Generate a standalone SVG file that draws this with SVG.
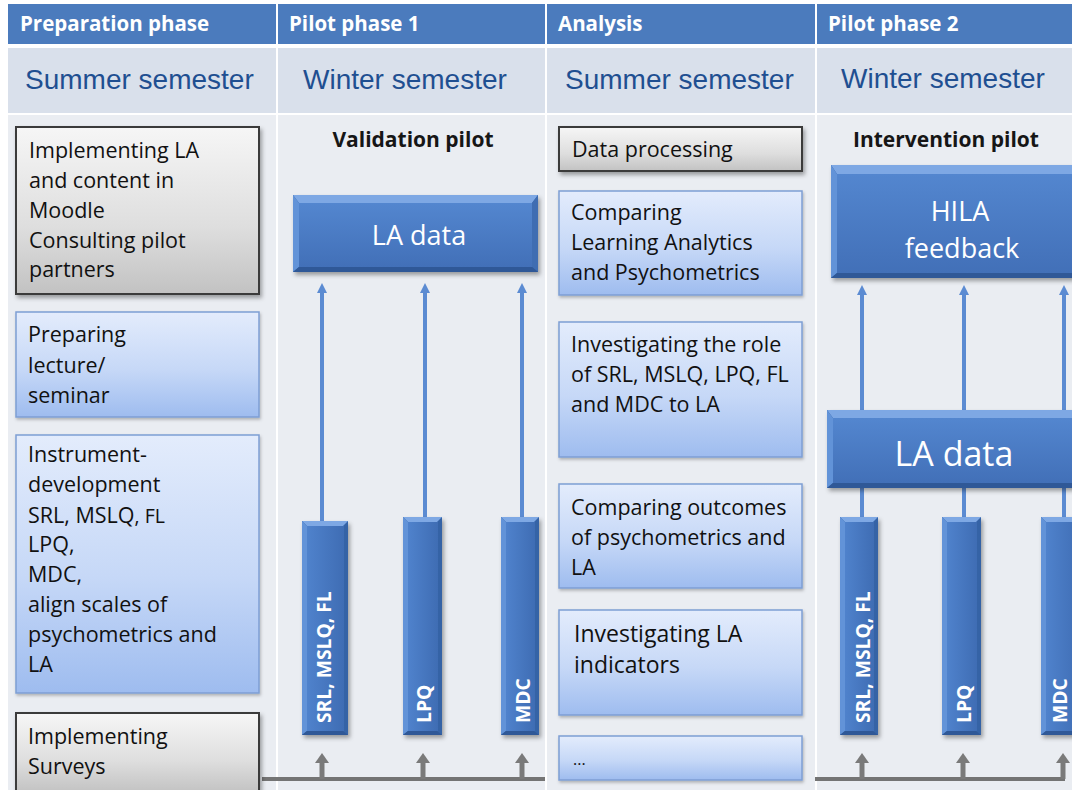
<svg xmlns="http://www.w3.org/2000/svg" width="1072" height="790" viewBox="0 0 1072 790">
  <defs>
    <linearGradient id="blueBox" x1="0" y1="0" x2="0" y2="1">
      <stop offset="0" stop-color="#e3ecfc"/>
      <stop offset="0.55" stop-color="#c6d8f7"/>
      <stop offset="1" stop-color="#9ebcef"/>
    </linearGradient>
    <linearGradient id="grayBox" x1="0" y1="0" x2="0" y2="1">
      <stop offset="0" stop-color="#f6f6f6"/>
      <stop offset="0.6" stop-color="#dedede"/>
      <stop offset="1" stop-color="#c2c2c2"/>
    </linearGradient>
    <linearGradient id="faceV" x1="0" y1="0" x2="0" y2="1">
      <stop offset="0" stop-color="#5386cf"/>
      <stop offset="1" stop-color="#4270b8"/>
    </linearGradient>
    <linearGradient id="faceH" x1="0" y1="0" x2="1" y2="0">
      <stop offset="0" stop-color="#4f82cc"/>
      <stop offset="1" stop-color="#3f6db4"/>
    </linearGradient>
    <filter id="shadow" x="-10%" y="-10%" width="130%" height="130%">
      <feDropShadow dx="2" dy="3" stdDeviation="2" flood-color="#000" flood-opacity="0.35"/>
    </filter>
    <filter id="softShadow" x="-10%" y="-10%" width="130%" height="130%">
      <feDropShadow dx="1" dy="2" stdDeviation="1.5" flood-color="#000" flood-opacity="0.25"/>
    </filter>
    <marker id="blueHead" viewBox="0 0 10 10" refX="2" refY="5" markerWidth="10" markerHeight="10" markerUnits="userSpaceOnUse" orient="auto">
      <path d="M0,0 L10,5 L0,10 z" fill="#5b8bd2"/>
    </marker>
    <marker id="grayHead" viewBox="0 0 10 14" refX="2" refY="7" markerWidth="10" markerHeight="14" markerUnits="userSpaceOnUse" orient="auto">
      <path d="M0,0 L10,7 L0,14 z" fill="#7a7a7a"/>
    </marker>
  </defs>
  <style>
    .hdr { font-family: "Open Sans", "Liberation Sans", sans-serif; font-weight: bold; font-size: 20.5px; fill: #ffffff; }
    .sem { font-family: "Liberation Sans", Arial, sans-serif; font-size: 28px; fill: #1f4f91; }
    .txt { font-family: "Open Sans", "Liberation Sans", sans-serif; font-size: 21.5px; fill: #111111; }
    .ttl { font-family: "Open Sans", "Liberation Sans", sans-serif; font-weight: bold; font-size: 21px; fill: #161616; }
    .big { font-family: "Open Sans", "Liberation Sans", sans-serif; font-size: 27px; fill: #ffffff; }
    .bar { font-family: "Open Sans", "Liberation Sans", sans-serif; font-weight: bold; font-size: 19.3px; fill: #ffffff; }
    .blue { fill: url(#blueBox); stroke: #7e9ed4; stroke-width: 1.5; filter: url(#softShadow); }
    .gray { fill: url(#grayBox); stroke: #3a3a3a; stroke-width: 2; filter: url(#shadow); }
    .base { fill: #3563a6; filter: url(#shadow); }
    .bt { fill: #7ea8e4; }
    .bl { fill: #6293d8; }
    .br { fill: #3f6db2; }
    .bb { fill: #2f5897; }
    .fv { fill: url(#faceV); }
    .fh { fill: url(#faceH); }
    .arrow { stroke: #5b8bd2; stroke-width: 4; fill: none; }
    .feed { stroke: #7a7a7a; stroke-width: 5; fill: none; }
    .rail { stroke: #747474; stroke-width: 4; fill: none; }
  </style>

  <!-- table background -->
  <g id="table">
    <rect x="0" y="0" width="1072" height="790" fill="#ffffff"/>
    <rect x="8" y="4" width="1064" height="40" fill="#4b7bbd"/>
    <rect x="8" y="48" width="1064" height="65" fill="#d9e0eb"/>
    <rect x="8" y="115" width="1064" height="675" fill="#eaedf2"/>
    <rect x="276" y="4" width="2" height="786" fill="#ffffff"/>
    <rect x="545" y="4" width="2" height="786" fill="#ffffff"/>
    <rect x="815" y="4" width="2" height="786" fill="#ffffff"/>
    <text class="hdr" x="20" y="31">Preparation phase</text>
    <text class="hdr" x="289" y="31">Pilot phase 1</text>
    <text class="hdr" x="558" y="31">Analysis</text>
    <text class="hdr" x="828" y="31">Pilot phase 2</text>
    <text class="sem" x="25" y="89">Summer semester</text>
    <text class="sem" x="303" y="89">Winter semester</text>
    <text class="sem" x="565" y="89">Summer semester</text>
    <text class="sem" x="841" y="88">Winter semester</text>
    <text class="ttl" x="413" y="147" text-anchor="middle">Validation pilot</text>
    <text class="ttl" x="946" y="147" text-anchor="middle">Intervention pilot</text>
  </g>

  <!-- connectors -->
  <g id="connectors">
    <!-- survey feeds into the bars -->
    <line class="rail" x1="262" y1="779" x2="545" y2="779"/>
    <line class="rail" x1="815" y1="779" x2="1065" y2="779"/>
    <line class="feed" x1="322" y1="779" x2="322" y2="761" marker-end="url(#grayHead)"/>
    <line class="feed" x1="423" y1="779" x2="423" y2="761" marker-end="url(#grayHead)"/>
    <line class="feed" x1="522" y1="779" x2="522" y2="761" marker-end="url(#grayHead)"/>
    <line class="feed" x1="862" y1="779" x2="862" y2="761" marker-end="url(#grayHead)"/>
    <line class="feed" x1="963" y1="779" x2="963" y2="761" marker-end="url(#grayHead)"/>
    <line class="feed" x1="1063" y1="779" x2="1063" y2="761" marker-end="url(#grayHead)"/>
    <!-- validation pilot: instruments to LA data -->
    <line class="arrow" x1="322" y1="528" x2="322" y2="291" marker-end="url(#blueHead)"/>
    <line class="arrow" x1="425" y1="524" x2="425" y2="291" marker-end="url(#blueHead)"/>
    <line class="arrow" x1="522" y1="524" x2="522" y2="291" marker-end="url(#blueHead)"/>
    <!-- intervention pilot: instruments to LA data, LA data to feedback -->
    <line class="arrow" x1="862" y1="524" x2="862" y2="486"/>
    <line class="arrow" x1="964" y1="524" x2="964" y2="486"/>
    <line class="arrow" x1="1064" y1="524" x2="1064" y2="486"/>
    <line class="arrow" x1="862" y1="412" x2="862" y2="293" marker-end="url(#blueHead)"/>
    <line class="arrow" x1="964" y1="412" x2="964" y2="293" marker-end="url(#blueHead)"/>
    <line class="arrow" x1="1064" y1="412" x2="1064" y2="293" marker-end="url(#blueHead)"/>
  </g>

  <!-- preparation phase -->
  <g id="prep-implement-la">
    <rect class="gray" x="16" y="127" width="243" height="167"/>
    <text class="txt" x="29" y="158">Implementing LA<tspan x="29" dy="30">and content in</tspan><tspan x="29" dy="30">Moodle</tspan><tspan x="29" dy="30">Consulting pilot</tspan><tspan x="29" dy="29">partners</tspan></text>
  </g>
  <g id="prep-lecture">
    <rect class="blue" x="16" y="312" width="243" height="105"/>
    <text class="txt" x="28" y="342">Preparing<tspan x="28" dy="31">lecture/</tspan><tspan x="28" dy="30">seminar</tspan></text>
  </g>
  <g id="prep-instruments">
    <rect class="blue" x="16" y="435" width="243" height="258"/>
    <text class="txt" x="28" y="462">Instrument-<tspan x="28" dy="30">development</tspan><tspan x="28" dy="31">SRL, MSLQ<tspan style="font-size:19.5px">, FL</tspan></tspan><tspan x="28" dy="29">LPQ,</tspan><tspan x="28" dy="30">MDC,</tspan><tspan x="28" dy="30">align scales of</tspan><tspan x="28" dy="30">psychometrics and</tspan><tspan x="28" dy="30">LA</tspan></text>
  </g>
  <g id="prep-surveys">
    <rect class="gray" x="16" y="713" width="243" height="80"/>
    <text class="txt" x="28" y="744">Implementing<tspan x="28" dy="30">Surveys</tspan></text>
  </g>

  <!-- pilot phase 1 -->
  <g id="p1-la-data">
    <rect class="base" x="293" y="195" width="245" height="77"/>
    <polygon class="bt" points="293,195 538,195 532,203 299,203"/>
    <polygon class="bl" points="293,195 299,203 299,267 293,272"/>
    <polygon class="br" points="538,195 532,203 532,267 538,272"/>
    <polygon class="bb" points="293,272 538,272 532,267 299,267"/>
    <rect class="fv" x="299" y="203" width="233" height="64"/>
    <text class="big" x="419" y="245" text-anchor="middle">LA data</text>
  </g>
  <g id="p1-srl">
    <rect class="base" x="302" y="521" width="46" height="214"/>
    <polygon class="bt" points="302,521 348,521 343,526 307,526"/>
    <polygon class="bl" points="302,521 307,526 307,731 302,735"/>
    <polygon class="bb" points="302,735 348,735 343,731 307,731"/>
    <rect class="fh" x="307" y="526" width="37" height="205"/>
    <text class="bar" transform="translate(331,723) rotate(-90)">SRL, MSLQ, FL</text>
  </g>
  <g id="p1-lpq">
    <rect class="base" x="403" y="517" width="39" height="218"/>
    <polygon class="bt" points="403,517 442,517 437,522 408,522"/>
    <polygon class="bl" points="403,517 408,522 408,731 403,735"/>
    <polygon class="bb" points="403,735 442,735 437,731 408,731"/>
    <rect class="fh" x="408" y="522" width="30" height="209"/>
    <text class="bar" transform="translate(431,723) rotate(-90)">LPQ</text>
  </g>
  <g id="p1-mdc">
    <rect class="base" x="501" y="517" width="38" height="218"/>
    <polygon class="bt" points="501,517 539,517 534,522 506,522"/>
    <polygon class="bl" points="501,517 506,522 506,731 501,735"/>
    <polygon class="bb" points="501,735 539,735 534,731 506,731"/>
    <rect class="fh" x="506" y="522" width="29" height="209"/>
    <text class="bar" transform="translate(530,723) rotate(-90)">MDC</text>
  </g>

  <!-- analysis -->
  <g id="an-processing">
    <rect class="gray" x="559" y="127" width="243" height="44"/>
    <text class="txt" x="572" y="157">Data processing</text>
  </g>
  <g id="an-compare">
    <rect class="blue" x="559" y="191" width="243" height="104"/>
    <text class="txt" x="571" y="220">Comparing<tspan x="571" dy="30">Learning Analytics</tspan><tspan x="571" dy="30">and Psychometrics</tspan></text>
  </g>
  <g id="an-role">
    <rect class="blue" x="559" y="322" width="243" height="135"/>
    <text class="txt" x="571" y="352">Investigating the role<tspan x="571" dy="30">of SRL, MSLQ, LPQ, FL</tspan><tspan x="571" dy="30">and MDC to LA</tspan></text>
  </g>
  <g id="an-outcomes">
    <rect class="blue" x="559" y="484" width="243" height="104"/>
    <text class="txt" x="571" y="515">Comparing outcomes<tspan x="571" dy="30">of psychometrics and</tspan><tspan x="571" dy="30">LA</tspan></text>
  </g>
  <g id="an-indicators">
    <rect class="blue" x="559" y="610" width="243" height="105"/>
    <text class="txt" x="574" y="642" style="font-size:23px">Investigating LA<tspan x="574" dy="31">indicators</tspan></text>
  </g>
  <g id="an-more">
    <rect class="blue" x="559" y="736" width="243" height="44"/>
    <text class="txt" x="573" y="765" style="font-size:16px">...</text>
  </g>

  <!-- pilot phase 2 -->
  <g id="p2-feedback">
    <rect class="base" x="831" y="165" width="256" height="113"/>
    <polygon class="bt" points="831,165 1087,165 1081,174 837,174"/>
    <polygon class="bl" points="831,165 837,174 837,273 831,278"/>
    <polygon class="bb" points="831,278 1087,278 1081,273 837,273"/>
    <rect class="fv" x="837" y="174" width="244" height="99"/>
    <text class="big" x="960" y="221" text-anchor="middle">HILA<tspan x="962" dy="37">feedback</tspan></text>
  </g>
  <g id="p2-la-data">
    <rect class="base" x="827" y="410" width="260" height="78"/>
    <polygon class="bt" points="827,410 1087,410 1081,418 833,418"/>
    <polygon class="bl" points="827,410 833,418 833,483 827,488"/>
    <polygon class="bb" points="827,488 1087,488 1081,483 833,483"/>
    <rect class="fv" x="833" y="418" width="248" height="65"/>
    <text class="big" x="954" y="466" text-anchor="middle" style="font-size:34px">LA data</text>
  </g>
  <g id="p2-srl">
    <rect class="base" x="840" y="517" width="38" height="218"/>
    <polygon class="bt" points="840,517 878,517 873,522 845,522"/>
    <polygon class="bl" points="840,517 845,522 845,731 840,735"/>
    <polygon class="bb" points="840,735 878,735 873,731 845,731"/>
    <rect class="fh" x="845" y="522" width="29" height="209"/>
    <text class="bar" transform="translate(870,723) rotate(-90)">SRL, MSLQ, FL</text>
  </g>
  <g id="p2-lpq">
    <rect class="base" x="942" y="517" width="39" height="218"/>
    <polygon class="bt" points="942,517 981,517 976,522 947,522"/>
    <polygon class="bl" points="942,517 947,522 947,731 942,735"/>
    <polygon class="bb" points="942,735 981,735 976,731 947,731"/>
    <rect class="fh" x="947" y="522" width="30" height="209"/>
    <text class="bar" transform="translate(971,723) rotate(-90)">LPQ</text>
  </g>
  <g id="p2-mdc">
    <rect class="base" x="1041" y="517" width="40" height="218"/>
    <polygon class="bt" points="1041,517 1081,517 1076,522 1046,522"/>
    <polygon class="bl" points="1041,517 1046,522 1046,731 1041,735"/>
    <polygon class="bb" points="1041,735 1081,735 1076,731 1046,731"/>
    <rect class="fh" x="1046" y="522" width="35" height="209"/>
    <text class="bar" transform="translate(1067,723) rotate(-90)">MDC</text>
  </g>
</svg>
